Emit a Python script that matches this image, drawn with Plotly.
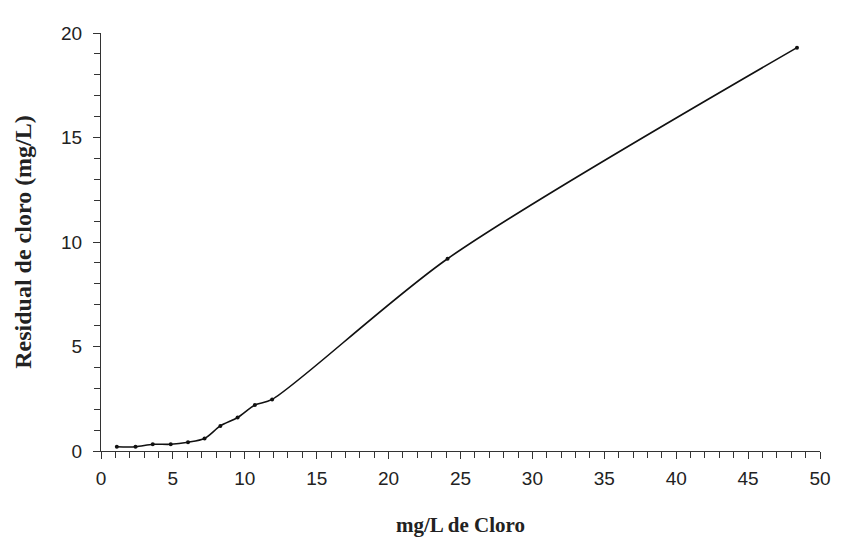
import plotly.graph_objects as go

cloro_dosis = [1.1, 2.4, 3.6, 4.85, 6.05, 7.2, 8.3, 9.5, 10.7, 11.9, 24.1, 48.4]
cloro_residual = [0.2, 0.2, 0.32, 0.32, 0.42, 0.6, 1.2, 1.6, 2.2, 2.47, 9.2, 19.3]

x_ticks = [0, 5, 10, 15, 20, 25, 30, 35, 40, 45, 50]
y_ticks = [0, 5, 10, 15, 20]
x_minor_step = 1
y_minor_step = 1

fig = go.Figure()
fig.add_trace(go.Scatter(
    x=cloro_dosis, y=cloro_residual,
    mode="lines+markers",
    line=dict(color="#111", width=1.6, shape="spline", smoothing=0.8),
    marker=dict(color="#111", size=4),
    showlegend=False,
))
# invisible companion trace so the minor-tick overlay axis is drawn
fig.add_trace(go.Scatter(
    x=cloro_dosis, y=cloro_residual, yaxis="y2",
    mode="lines", line=dict(color="rgba(0,0,0,0)", width=0),
    hoverinfo="skip", showlegend=False,
))

tick_font = dict(family="Liberation Sans, Arial, sans-serif", size=19, color="#222")
xtitle_font = dict(family="Liberation Serif, Times New Roman, serif", size=21, color="#222")
ytitle_font = dict(family="Liberation Serif, Times New Roman, serif", size=24, color="#222")

# the page body has an 8px offset; compensate so plot area lands at x 101-820, y 33-451
fig.update_layout(
    width=833, height=530,
    margin=dict(l=93, r=21, t=25, b=87),
    paper_bgcolor="white", plot_bgcolor="white",
    xaxis=dict(
        range=[x_ticks[0], x_ticks[-1]], tickmode="linear", tick0=x_ticks[0],
        dtick=x_ticks[1] - x_ticks[0],
        automargin=False,
        showgrid=False, zeroline=False,
        showline=True, linecolor="#333", linewidth=1.2,
        ticks="outside", ticklen=7, tickcolor="#333", tickwidth=1.2,
        minor=dict(ticks="outside", ticklen=6, dtick=x_minor_step, tick0=0,
                   tickcolor="#333", tickwidth=1.2, showgrid=False),
        tickfont=tick_font, ticklabelstandoff=3,
        title=dict(text="<b>mg/L de Cloro</b>", font=xtitle_font, standoff=29),
    ),
    yaxis=dict(
        range=[y_ticks[0], y_ticks[-1]], tickmode="linear", tick0=y_ticks[0],
        dtick=y_ticks[1] - y_ticks[0],
        automargin=False,
        showgrid=False, zeroline=False,
        showline=True, linecolor="#333", linewidth=1.2,
        ticks="outside", ticklen=7, tickcolor="#333", tickwidth=1.2,
        tickfont=tick_font, ticklabelstandoff=7,
        title=dict(text="<b>Residual de cloro (mg/L)</b>", font=ytitle_font, standoff=22),
    ),
    yaxis2=dict(
        overlaying="y", side="left", anchor="x",
        range=[y_ticks[0], y_ticks[-1]], tickmode="linear", tick0=0, dtick=y_minor_step,
        automargin=False, showgrid=False, zeroline=False, showline=False,
        ticks="outside", ticklen=6, tickcolor="#333", tickwidth=1.2,
        showticklabels=False,
    ),
)

fig.write_html("out.html")
